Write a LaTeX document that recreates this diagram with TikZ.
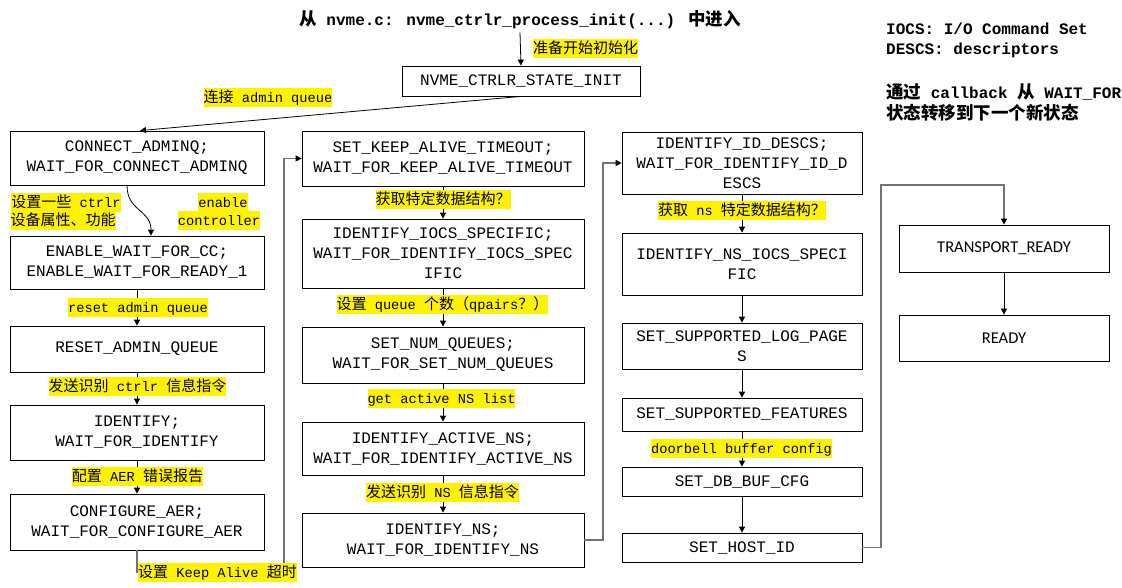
\documentclass[tikz,border=0pt]{standalone}
\usepackage{fontspec}
\setmainfont{Liberation Mono}
\newfontfamily\cjk{Noto Sans CJK SC}
\newfontfamily\carl{Carlito}
\usetikzlibrary{arrows.meta,calc}
\newcommand\bxfont{\fontsize{16}{20}\selectfont}
\newcommand\labfont{\fontsize{13.7}{17}\selectfont}
\newcommand\zh[1]{{\fontsize{15}{17}\selectfont\cjk #1}}
\newcommand\zhb[1]{{\fontsize{17.5}{21}\selectfont\cjk\bfseries #1}}
\tikzset{
 bx/.style={draw, line width=0.8pt, inner sep=0pt, align=center, font=\bxfont},
 lab/.style={fill=yellow, inner xsep=0pt, inner ysep=1.5pt, text height=13pt, text depth=3pt, font=\labfont},
 arr/.style={line width=0.8pt, -{Triangle[length=6pt,width=6pt,color=black]}},
 lc/.style={arr, draw=black!55, line width=1.3pt},
 note/.style={anchor=west, inner sep=0pt, font=\bfseries\fontsize{16}{20}\selectfont},
}
\begin{document}
\begin{tikzpicture}[x=1pt,y=-1pt]
\fill[white] (0,0) rectangle (1122,587);
\useasboundingbox (0,0) rectangle (1122,587);

% title and notes
\node[inner sep=0pt, font=\bfseries\fontsize{16}{20}\selectfont] (title) at (520,20)
  {\zhb{从} nvme.c: nvme\_ctrlr\_process\_init(...) \zhb{中进入}};
\node[note] (n1) at (886,29) {IOCS: I/O Command Set};
\node[note] (n2) at (886,50) {DESCS: descriptors};
\node[note] (n3) at (886,92) {\zhb{通过} callback \zhb{从} WAIT\_FOR};
\node[note] (n4) at (886,113) {\zhb{状态转移到下一个新状态}};

% init
\node[bx, minimum width=238, minimum height=30] (init) at (521,81) {NVME\_CTRLR\_STATE\_INIT};

% column 1
\node[bx, minimum width=254, minimum height=54] (cona) at (137,158) {CONNECT\_ADMINQ;\\WAIT\_FOR\_CONNECT\_ADMINQ};
\node[bx, minimum width=254, minimum height=53] (ena) at (137,262.5) {ENABLE\_WAIT\_FOR\_CC;\\ENABLE\_WAIT\_FOR\_READY\_1};
\node[bx, minimum width=254, minimum height=46] (rst) at (137,349) {RESET\_ADMIN\_QUEUE};
\node[bx, minimum width=254, minimum height=55] (idf) at (137,432.5) {IDENTIFY;\\WAIT\_FOR\_IDENTIFY};
\node[bx, minimum width=254, minimum height=56] (aer) at (137,522) {CONFIGURE\_AER;\\WAIT\_FOR\_CONFIGURE\_AER};

% column 2
\node[bx, minimum width=282, minimum height=55] (ska) at (443,158.5) {SET\_KEEP\_ALIVE\_TIMEOUT;\\WAIT\_FOR\_KEEP\_ALIVE\_TIMEOUT};
\node[bx, minimum width=282, minimum height=69] (iocs) at (443,253.5) {IDENTIFY\_IOCS\_SPECIFIC;\\WAIT\_FOR\_IDENTIFY\_IOCS\_SPEC\\IFIC};
\node[bx, minimum width=282, minimum height=56] (nq) at (443,355) {SET\_NUM\_QUEUES;\\WAIT\_FOR\_SET\_NUM\_QUEUES};
\node[bx, minimum width=282, minimum height=53] (ans) at (443,448.5) {IDENTIFY\_ACTIVE\_NS;\\WAIT\_FOR\_IDENTIFY\_ACTIVE\_NS};
\node[bx, minimum width=282, minimum height=54] (ins) at (443,540) {IDENTIFY\_NS;\\WAIT\_FOR\_IDENTIFY\_NS};

% column 3
\node[bx, minimum width=240, minimum height=62] (idd) at (742,163) {IDENTIFY\_ID\_DESCS;\\WAIT\_FOR\_IDENTIFY\_ID\_D\\ESCS};
\node[bx, minimum width=240, minimum height=62] (nsi) at (742,264) {IDENTIFY\_NS\_IOCS\_SPECI\\FIC};
\node[bx, minimum width=240, minimum height=46] (log) at (742,346) {SET\_SUPPORTED\_LOG\_PAGE\\S};
\node[bx, minimum width=240, minimum height=33] (feat) at (742,414.5) {SET\_SUPPORTED\_FEATURES};
\node[bx, minimum width=240, minimum height=29] (db) at (742,481.5) {SET\_DB\_BUF\_CFG};
\node[bx, minimum width=240, minimum height=29] (host) at (742,547.5) {SET\_HOST\_ID};

% column 4
\node[bx, font=\carl\fontsize{16.5}{20}\selectfont, minimum width=210, minimum height=47] (tr) at (1004,248.5) {TRANSPORT\_READY};
\node[bx, font=\carl\fontsize{16.5}{20}\selectfont, minimum width=210, minimum height=46] (rd) at (1004,338) {READY};

% connectors
\draw[arr] (title.south) ++(0,3) -- (init.north);
\draw[arr] (init.south) -- ($(cona.north)+(3,0)$);
\draw[arr] ($(cona.south)+(-10,0)$) .. controls +(0,26) and +(0,-26) .. ($(ena.north)+(14,0)$);
\draw[arr] (ena) -- (rst);
\draw[arr] (rst) -- (idf);
\draw[arr] (idf) -- (aer);
\draw[arr] (ska) -- (iocs);
\draw[arr] (iocs) -- (nq);
\draw[arr] (nq) -- (ans);
\draw[arr] (ans) -- (ins);
\draw[arr] (idd) -- (nsi);
\draw[arr] (nsi) -- (log);
\draw[arr] (log) -- (feat);
\draw[arr] (feat) -- (db);
\draw[arr] (db) -- (host);
\draw[arr] (tr) -- (rd);

\coordinate (c1) at (284,572);
\coordinate (c2) at (603,540);
\coordinate (c3) at (881,185);
\draw[lc] (aer.south) |- (c1) |- (ska.west);
\draw[lc] (ins.east) -- (c2) |- (idd.west);
\draw[lc] (host.east) -| (c3) -| (tr.north);

% labels
\node[lab, anchor=west] (l0) at (533,48) {\zh{准备开始初始化}};
\node[lab] (l1) at (268,97) {\zh{连接} admin queue};
\node[lab] (l2a) at (66,202.5) {\zh{设置一些} ctrlr };
\node[lab] (l2b) at (63,220.5) {\zh{设备属性、功能}};
\node[lab] (l3a) at (223,202.5) {enable };
\node[lab] (l3b) at (219,220.5) {controller};
\node[lab] (l4) at (138,307) {reset admin queue};
\node[lab] (l5) at (137.5,386) {\zh{发送识别} ctrlr \zh{信息指令}};
\node[lab] (l6) at (137.5,476) {\zh{配置} AER \zh{错误报告}};
\node[lab] (l7) at (217.5,572) {\zh{设置} Keep Alive \zh{超时}};
\node[lab] (l8) at (443,199) {\zh{获取特定数据结构？}};
\node[lab] (l9) at (442.5,304.5) {\zh{设置} queue \zh{个数（}qpairs\zh{？）}};
\node[lab] (l10) at (441.5,398.5) {get active NS list};
\node[lab] (l11) at (442.5,492.5) {\zh{发送识别} NS \zh{信息指令}};
\node[lab] (l12) at (742,210) {\zh{获取} ns \zh{特定数据结构？}};
\node[lab] (l13) at (741.5,448) {doorbell buffer config};
\end{tikzpicture}
\end{document}
